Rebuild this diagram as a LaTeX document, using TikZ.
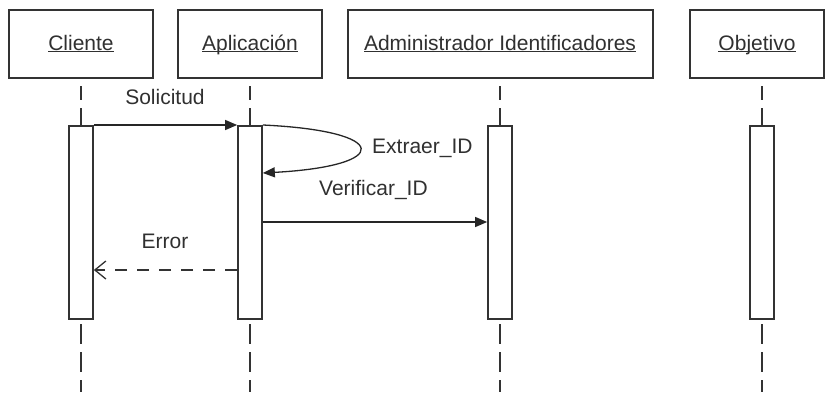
\documentclass[tikz,border=0pt]{standalone}
\usepackage{fontspec}
\setmainfont{Liberation Sans}
\usetikzlibrary{arrows.meta,calc}
\definecolor{ink}{HTML}{333333}
\definecolor{txt}{HTML}{303030}
% underline at a fixed depth, whatever the descenders
\newcommand\headul[1]{\setbox0\hbox{#1}\rlap{\usebox0}\rule[-2.2pt]{\wd0}{1.1pt}}
\tikzset{
  objbox/.style={draw=ink, line width=2pt, fill=white, minimum width=144pt,
    minimum height=68pt, inner sep=0pt, text height=15pt, text depth=3pt,
    text=txt, font=\fontsize{21}{25}\selectfont},
  actbar/.style={draw=ink, line width=1.7pt, fill=white, minimum width=24pt,
    minimum height=193pt, inner sep=0pt},
  lifetop/.style={draw=ink, line width=1.6pt, dash pattern=on 14pt off 8pt on 30pt off 8pt},
  lifebot/.style={draw=ink, line width=1.6pt, dash pattern=on 20pt off 8pt},
  msg/.style={draw=black!85, line width=1.3pt, -{Triangle[length=12pt,width=10pt]}},
  reply/.style={draw=ink, line width=1.3pt, dash pattern=on 12pt off 10pt,
    -{Straight Barb[length=11pt,width=18pt,line width=1.3pt]}},
  lbl/.style={text=txt, font=\fontsize{21}{25}\selectfont, inner sep=0pt}
}
\begin{document}
\begin{tikzpicture}[x=1pt,y=-1pt]
\useasboundingbox (0,0) rectangle (825,392);

% object heads
\node[objbox] (cli) at (81,44) {\headul{Cliente}};
\node[objbox] (app) at (250,44) {\headul{Aplicación}};
\node[objbox, minimum width=305pt] (adm) at (500,44) {\headul{Administrador Identificadores}};
\node[objbox, minimum width=134pt] (obj) at (757,44) {\headul{Objetivo}};

% lifelines
\foreach \n/\x in {cli/81, app/250, adm/500, obj/762}{
  \coordinate (\n t) at (\x,86);
  \coordinate (\n m) at (\x,125);
  \coordinate (\n b) at (\x,324);
  \coordinate (\n e) at (\x,392);
  \draw[lifetop] (\n t) -- (\n m);
  \draw[lifebot] (\n b) -- (\n e);
}

% activation bars
\node[actbar, anchor=north] (cliA) at (clim) {};
\node[actbar, anchor=north] (appA) at (appm) {};
\node[actbar, anchor=north] (admA) at (admm) {};
\node[actbar, anchor=north] (objA) at (objm) {};

% Solicitud
\draw[msg] (cliA.north east) -- (appA.north west);
\node[lbl] (solL) at (165,97) {Solicitud};

% Extraer_ID (self call)
\coordinate (selfEnd) at ($(appA.north east)+(0,48)$);
\draw[msg] (appA.north east) .. controls (392,131) and (392,166) .. (selfEnd);
\node[lbl, anchor=west] (extL) at (372,148) {Extraer\_ID};

% Verificar_ID
\coordinate (verS) at ($(appA.north east)+(0,97)$);
\coordinate (verE) at ($(admA.north west)+(0,97)$);
\draw[msg] (verS) -- (verE);
\node[lbl, anchor=west] (verL) at (319,190) {Verificar\_ID};

% Error (reply)
\coordinate (errS) at ($(appA.north west)+(0,145)$);
\coordinate (errE) at ($(cliA.north east)+(0,145)$);
\draw[reply] (errS) -- (errE);
\node[lbl] (errL) at (165,241) {Error};
\end{tikzpicture}
\end{document}
